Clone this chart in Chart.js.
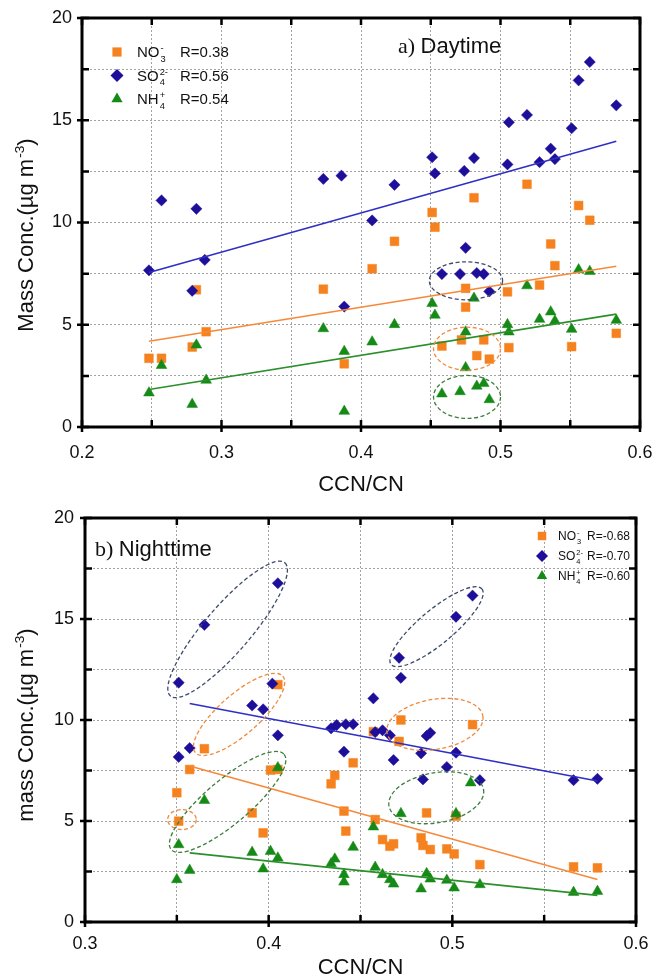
<!DOCTYPE html>
<html>
<head>
<meta charset="utf-8">
<script src="https://cdn.jsdelivr.net/npm/chart.js@4.4.1/dist/chart.umd.min.js"></script>
<style>
  body { margin: 0; background: #fff; }
  canvas { display: block; }
</style>
</head>
<body>
<canvas id="day" width="653" height="500"></canvas>
<canvas id="night" width="653" height="479"></canvas>
<script>
const FONT = '"Liberation Sans", Arial, sans-serif';
const SERIF = '"Liberation Serif", "Times New Roman", serif';

const ORANGE = '#f5821f', NAVY = '#1e0f9a', GREEN = '#168a16';
const LINE_ORANGE = '#f7893a', LINE_BLUE = '#2f2fc4', LINE_GREEN = '#2b8f2b';
const RING = { slate: '#3d4b6b', orange: '#f08a3c', green: '#3e7d3e' };

// daytime samples: [CCN/CN, mass conc. µg m-3]
const dayNO3 = [[0.519,11.87],[0.481,11.21],[0.451,10.49],[0.453,9.77],[0.556,10.83],[0.564,10.11],[0.424,9.08],[0.536,8.95],
  [0.408,7.74],[0.539,7.89],[0.373,6.74],[0.282,6.71],[0.475,6.78],[0.505,6.61],[0.528,6.94],[0.475,5.86],[0.248,3.36],
  [0.257,3.36],[0.279,3.91],[0.289,4.66],[0.388,3.09],[0.458,3.96],[0.472,4.26],[0.488,4.26],[0.483,3.49],[0.492,3.32],
  [0.506,3.88],[0.551,3.93],[0.583,4.58]];
const daySO4 = [[0.248,7.66],[0.257,11.08],[0.282,10.67],[0.279,6.66],[0.288,8.17],[0.373,12.13],[0.386,12.29],[0.388,5.89],
  [0.408,10.10],[0.424,11.84],[0.451,13.19],[0.453,12.40],[0.474,12.52],[0.481,13.15],[0.475,8.76],[0.458,7.48],[0.471,7.48],
  [0.483,7.53],[0.488,7.48],[0.492,6.63],[0.506,14.90],[0.505,12.84],[0.519,15.26],[0.528,12.95],[0.536,13.61],[0.539,13.10],
  [0.551,14.61],[0.556,16.95],[0.564,17.85],[0.583,15.73]];
const dayNH4 = [[0.556,7.69],[0.564,7.61],[0.519,6.91],[0.481,6.30],[0.451,6.04],[0.453,5.47],[0.536,5.63],[0.528,5.27],
  [0.539,5.19],[0.583,5.22],[0.505,5.01],[0.506,4.65],[0.551,4.78],[0.424,5.01],[0.373,4.81],[0.408,4.16],[0.475,4.65],
  [0.388,3.70],[0.282,4.01],[0.257,3.01],[0.289,2.29],[0.248,1.67],[0.279,1.11],[0.388,0.77],[0.475,2.90],[0.458,1.62],
  [0.471,1.73],[0.483,2.00],[0.488,2.13],[0.492,1.34]];
// linear fits, end points
const dayFitNO3 = [[0.248,4.19],[0.583,7.86]];
const dayFitSO4 = [[0.248,7.56],[0.583,13.97]];
const dayFitNH4 = [[0.248,1.83],[0.583,5.52]];

// nighttime samples
const nightNO3 = [[0.405,11.75],[0.472,10.0],[0.511,9.77],[0.457,9.42],[0.365,8.58],[0.471,8.94],[0.357,7.55],[0.401,7.52],
  [0.405,7.55],[0.446,7.88],[0.436,7.26],[0.434,6.84],[0.350,6.40],[0.351,4.99],[0.391,5.40],[0.397,4.41],[0.441,5.49],
  [0.442,4.50],[0.458,5.07],[0.462,4.08],[0.466,3.75],[0.468,3.87],[0.483,4.17],[0.484,3.79],[0.488,3.59],[0.486,5.40],
  [0.497,3.62],[0.501,3.37],[0.502,5.24],[0.515,2.84],[0.566,2.73],[0.579,2.68]];
const nightSO4 = [[0.351,11.85],[0.365,14.71],[0.405,16.77],[0.391,10.72],[0.397,10.53],[0.402,11.80],[0.471,13.08],[0.472,12.09],
  [0.502,15.11],[0.511,16.16],[0.457,11.07],[0.434,9.59],[0.437,9.75],[0.442,9.79],[0.446,9.79],[0.458,9.40],[0.462,9.49],
  [0.466,9.24],[0.351,8.17],[0.357,8.61],[0.405,9.24],[0.441,8.43],[0.468,8.02],[0.483,8.35],[0.484,7.06],[0.486,9.21],
  [0.488,9.37],[0.502,8.38],[0.497,7.67],[0.515,7.02],[0.566,7.02],[0.579,7.09]];
const nightNH4 = [[0.405,7.64],[0.510,6.89],[0.365,6.02],[0.472,5.37],[0.502,5.37],[0.457,4.71],[0.351,3.83],[0.446,3.70],
  [0.391,3.45],[0.401,3.50],[0.405,3.17],[0.436,3.12],[0.434,2.89],[0.357,2.56],[0.397,2.63],[0.458,2.71],[0.441,2.35],
  [0.441,1.98],[0.462,2.35],[0.466,2.10],[0.468,1.88],[0.486,2.40],[0.488,2.13],[0.483,1.64],[0.497,2.07],[0.501,1.69],
  [0.515,1.85],[0.350,2.10],[0.566,1.47],[0.579,1.52]];
const nightFitNO3 = [[0.357,7.72],[0.579,2.10]];
const nightFitSO4 = [[0.357,10.82],[0.579,6.98]];
const nightFitNH4 = [[0.357,3.42],[0.579,1.32]];

// axis ranges
const dayXRange = [0.2, 0.6];
const nightXRange = [0.3, 0.6];
const yRange = [0, 20];

const species = [
  [{ t: 'NO' }, { sub: '3', sup: '-' }],
  [{ t: 'SO' }, { sub: '4', sup: '2-' }],
  [{ t: 'NH' }, { sub: '4', sup: '+' }]
];
const dayR = ['R=0.38', 'R=0.56', 'R=0.54'];
const nightR = ['R=-0.68', 'R=-0.70', 'R=-0.60'];

// dashed rings around sample groups: major axis end points in data units, half width in px
const dayRings = [
  { from: [0.449, 7.15], to: [0.5015, 7.15], half: 19, color: RING.slate },
  { from: [0.452, 3.83], to: [0.500, 3.83], half: 21.5, color: RING.orange },
  { from: [0.452, 1.47], to: [0.500, 1.47], half: 21.5, color: RING.green }
];
const nightRings = [
  { from: [0.3465, 11.19], to: [0.4088, 17.78], half: 23, color: RING.slate },
  { from: [0.4667, 12.75], to: [0.5161, 16.49], half: 17, color: RING.slate },
  { from: [0.3601, 8.38], to: [0.4077, 12.17], half: 20, color: RING.orange },
  { from: [0.4644, 9.37], to: [0.5166, 10.2], half: 25, color: RING.orange },
  { from: [0.3450, 5.07], to: [0.3606, 5.07], half: 10, color: RING.orange },
  { from: [0.3469, 3.59], to: [0.4084, 8.30], half: 22, color: RING.green },
  { from: [0.4655, 5.74], to: [0.517, 6.56], half: 25, color: RING.green }
];

// text with stacked sub/superscripts, returns width
function rich(ctx, parts, x, y, size, draw = true) {
  let cx = x;
  for (const p of parts) {
    if (p.t !== undefined) {
      ctx.font = size + 'px ' + FONT;
      if (draw) ctx.fillText(p.t, cx, y);
      cx += ctx.measureText(p.t).width;
    } else {
      const s = size * 0.62;
      ctx.font = s + 'px ' + FONT;
      let w = 0;
      if (p.sup) { if (draw) ctx.fillText(p.sup, cx + 1, y - size * 0.42); w = ctx.measureText(p.sup).width + 1; }
      if (p.sub) { if (draw) ctx.fillText(p.sub, cx + 1, y + size * 0.28); w = Math.max(w, ctx.measureText(p.sub).width + 1); }
      cx += w;
    }
  }
  return cx - x;
}

function marker(ctx, style, x, y, r, color) {
  ctx.fillStyle = color;
  ctx.beginPath();
  if (style === 'rect') {
    const s = r * Math.SQRT1_2;
    ctx.rect(x - s, y - s, 2 * s, 2 * s);
  } else if (style === 'rectRot') {
    ctx.moveTo(x, y - r); ctx.lineTo(x + r, y); ctx.lineTo(x, y + r); ctx.lineTo(x - r, y);
  } else {
    ctx.moveTo(x, y - r); ctx.lineTo(x + r * 0.866, y + r / 2); ctx.lineTo(x - r * 0.866, y + r / 2);
  }
  ctx.closePath();
  ctx.fill();
}

const decor = {
  id: 'decor',
  afterDraw(chart, args, o) {
    const { ctx, chartArea: a, scales: { x, y } } = chart;
    ctx.save();

    // dashed rings
    ctx.setLineDash([4, 2.5]);
    ctx.lineWidth = 1.3;
    for (const e of o.rings) {
      const x1 = x.getPixelForValue(e.from[0]), y1 = y.getPixelForValue(e.from[1]);
      const x2 = x.getPixelForValue(e.to[0]), y2 = y.getPixelForValue(e.to[1]);
      ctx.strokeStyle = e.color;
      ctx.beginPath();
      ctx.ellipse((x1 + x2) / 2, (y1 + y2) / 2, Math.hypot(x2 - x1, y2 - y1) / 2, e.half,
        Math.atan2(y2 - y1, x2 - x1), 0, 2 * Math.PI);
      ctx.stroke();
    }
    ctx.setLineDash([]);

    // frame with inward ticks
    ctx.strokeStyle = '#000';
    ctx.lineWidth = 3;
    ctx.strokeRect(a.left, a.top, a.width, a.height);
    ctx.lineWidth = 2.5;
    ctx.beginPath();
    x.ticks.forEach(t => {
      const px = x.getPixelForValue(t.value);
      const out = t.label !== '' ? 5 : 0;
      ctx.moveTo(px, a.bottom + out); ctx.lineTo(px, a.bottom - 7);
      ctx.moveTo(px, a.top); ctx.lineTo(px, a.top + 7);
    });
    y.ticks.forEach(t => {
      const py = y.getPixelForValue(t.value);
      const out = t.label !== '' ? 5 : 0;
      ctx.moveTo(a.left - out, py); ctx.lineTo(a.left + 7, py);
      ctx.moveTo(a.right, py); ctx.lineTo(a.right - 7, py);
    });
    ctx.stroke();

    // legend
    ctx.textBaseline = 'alphabetic';
    const L = o.legend;
    const styles = [['rect', ORANGE], ['rectRot', NAVY], ['triangle', GREEN]];
    species.forEach((sp, i) => {
      const ly = L.y + i * L.gap;
      marker(ctx, styles[i][0], L.x, ly, L.r, styles[i][1]);
      ctx.fillStyle = '#111';
      rich(ctx, sp, L.textX, ly + L.size * 0.36, L.size);
      ctx.font = L.size + 'px ' + FONT;
      ctx.fillText(o.r[i], L.rX, ly + L.size * 0.36);
    });

    // panel label
    const T = o.label;
    ctx.fillStyle = '#111';
    ctx.font = T.size + 'px ' + SERIF;
    ctx.fillText(T.tag, T.x, T.y);
    const tw = ctx.measureText(T.tag + ' ').width;
    ctx.font = T.size + 'px ' + FONT;
    ctx.fillText(T.text, T.x + tw, T.y);

    // axis titles
    ctx.font = '22px ' + FONT;
    ctx.textAlign = 'center';
    ctx.textBaseline = 'middle';
    ctx.fillText('CCN/CN', (a.left + a.right) / 2, o.xTitleY);
    ctx.textAlign = 'left';
    ctx.textBaseline = 'alphabetic';
    const yParts = [{ t: o.yTitle }, { sup: '-3' }, { t: ')' }];
    const w = rich(ctx, yParts, 0, 0, 22, false);
    ctx.translate(o.yTitleX, o.yTitleY);
    ctx.rotate(-Math.PI / 2);
    rich(ctx, yParts, -w / 2, 0, 22);
    ctx.restore();
  }
};

const pts = (data, color, style, r) => ({
  data: data.map(([x, y]) => ({ x, y })),
  pointStyle: style,
  pointRadius: r,
  backgroundColor: color,
  borderColor: color,
  borderWidth: 0.5,
  showLine: false
});

const fit = (data, color) => ({
  data: data.map(([x, y]) => ({ x, y })),
  borderColor: color,
  borderWidth: 1.6,
  pointRadius: 0,
  showLine: true,
  fill: false
});

function panel(id, o) {
  return new Chart(document.getElementById(id), {
    type: 'scatter',
    data: {
      datasets: [
        fit(o.fits[0], LINE_ORANGE), fit(o.fits[1], LINE_BLUE), fit(o.fits[2], LINE_GREEN),
        pts(o.nh4, GREEN, 'triangle', 6.2), pts(o.so4, NAVY, 'rectRot', 5.6), pts(o.no3, ORANGE, 'rect', 6.2)
      ]
    },
    options: {
      responsive: false,
      animation: false,
      events: [],
      layout: { padding: { top: o.padTop, right: o.padRight, left: 0, bottom: 0 } },
      plugins: {
        legend: { display: false },
        tooltip: { enabled: false },
        decor: o.decor
      },
      scales: {
        x: {
          type: 'linear',
          min: o.xRange[0], max: o.xRange[1],
          afterFit: s => { s.height = o.xAxisH; s.paddingLeft = 0; s.paddingRight = 0; },
          grid: { color: '#a3a3a3', lineWidth: 1, drawTicks: false },
          border: { display: false, dash: [2, 2] },
          ticks: {
            stepSize: 0.05, autoSkip: false, maxRotation: 0, padding: o.xPad, color: '#111',
            font: { family: FONT, size: 18 },
            callback: v => Math.abs(v * 10 - Math.round(v * 10)) < 1e-6 ? v.toFixed(1) : ''
          }
        },
        y: {
          min: yRange[0], max: yRange[1],
          afterFit: s => { s.width = o.yAxisW; s.paddingTop = 0; s.paddingBottom = 0; },
          grid: { color: '#a3a3a3', lineWidth: 1, drawTicks: false },
          border: { display: false, dash: [2, 2] },
          ticks: {
            stepSize: 2.5, autoSkip: false, padding: o.yPad, color: '#111',
            font: { family: FONT, size: 18 },
            callback: v => v % 5 === 0 ? String(v) : ''
          }
        }
      }
    },
    plugins: [decor]
  });
}

panel('day', {
  no3: dayNO3, so4: daySO4, nh4: dayNH4, fits: [dayFitNO3, dayFitSO4, dayFitNH4],
  xRange: dayXRange, padTop: 18, padRight: 13, xAxisH: 73, yAxisW: 82, xPad: 15, yPad: 10,
  decor: {
    rings: dayRings, r: dayR,
    legend: { x: 117, y: 52, gap: 23.5, r: 6.5, textX: 137, rX: 180, size: 15 },
    label: { tag: 'a)', text: 'Daytime', x: 398, y: 53, size: 22 },
    xTitleY: 485, yTitle: 'Mass Conc.(\u00b5g m', yTitleX: 33, yTitleY: 235
  }
});

panel('night', {
  no3: nightNO3, so4: nightSO4, nh4: nightNH4, fits: [nightFitNO3, nightFitSO4, nightFitNH4],
  xRange: nightXRange, padTop: 18, padRight: 17, xAxisH: 57, yAxisW: 85, xPad: 11, yPad: 11,
  decor: {
    rings: nightRings, r: nightR,
    legend: { x: 542, y: 36, gap: 20, r: 6, textX: 558, rX: 587, size: 12 },
    label: { tag: 'b)', text: 'Nighttime', x: 95, y: 56, size: 22 },
    xTitleY: 468, yTitle: 'mass Conc.(\u00b5g m', yTitleX: 33, yTitleY: 225
  }
});
</script>
</body>
</html>
